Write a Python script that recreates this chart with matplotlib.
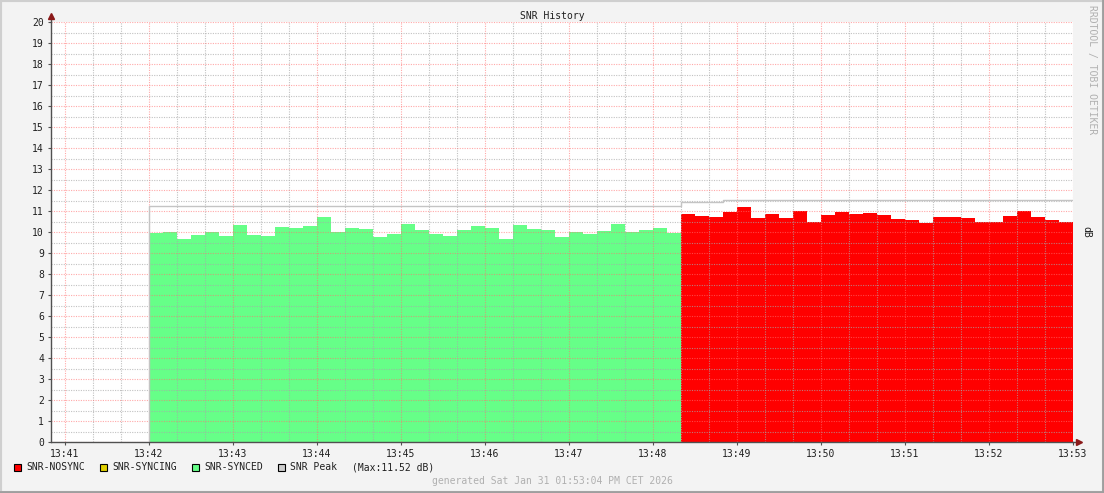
import matplotlib
matplotlib.use("Agg")
import matplotlib.pyplot as plt
from matplotlib.patches import Rectangle
from matplotlib.ticker import FixedLocator, MultipleLocator

# 10 s samples
STEP_S = 10
SYNCED_START = "13:42:00"
NOSYNC_START = "13:48:20"

snr_synced = [9.97, 10.02, 9.68, 9.87, 10.02, 9.82, 10.35, 9.87, 9.82, 10.25,
              10.20, 10.30, 10.73, 10.02, 10.20, 10.16, 9.78, 9.92, 10.40, 10.10,
              9.92, 9.82, 10.10, 10.30, 10.20, 9.68, 10.35, 10.16, 10.10, 9.78,
              10.02, 9.92, 10.06, 10.40, 10.02, 10.10, 10.20, 9.97]
snr_nosync = [10.86, 10.76, 10.71, 10.95, 11.19, 10.67, 10.86, 10.67, 11.00, 10.49,
              10.81, 10.95, 10.86, 10.90, 10.81, 10.62, 10.57, 10.43, 10.71, 10.71,
              10.67, 10.48, 10.48, 10.76, 11.00, 10.71, 10.57, 10.48]
snr_peak = [11.24] * 38 + [11.45] * 3 + [11.52] * 25

x_ticks = ["13:41", "13:42", "13:43", "13:44", "13:45", "13:46", "13:47",
           "13:48", "13:49", "13:50", "13:51", "13:52", "13:53"]

legend_items = [("SNR-NOSYNC", "#ff0000"), ("SNR-SYNCING", "#e0d000"),
                ("SNR-SYNCED", "#66ff88"), ("SNR Peak", "#cccccc")]


def secs(hhmm):
    p = [int(v) for v in hhmm.split(":")]
    return p[0] * 3600 + p[1] * 60 + (p[2] if len(p) > 2 else 0)


def edges(start, n):
    t0 = secs(start)
    return [t0 + i * STEP_S for i in range(n + 1)]


MONO = "DejaVu Sans Mono"
FS = 7

W, H = 1104, 493
fig = plt.figure(figsize=(W / 100, H / 100), dpi=100, facecolor="#f3f3f3")

# frame around the image
fig.patches.append(Rectangle((0, 0), 1, 1, transform=fig.transFigure,
                             fill=False, ec="#cfcfcf", lw=3))
fig.add_artist(plt.Line2D([1 - 1 / W, 1 - 1 / W], [0, 1], color="#9e9e9e",
                          lw=2, transform=fig.transFigure))
fig.add_artist(plt.Line2D([0, 1], [1 / H, 1 / H], color="#9e9e9e",
                          lw=2, transform=fig.transFigure))

ax = fig.add_axes([51 / W, (H - 442) / H, (1073 - 51) / W, 420 / H])
ax.set_facecolor("white")

e_sync = edges(SYNCED_START, len(snr_synced))
e_nosync = edges(NOSYNC_START, len(snr_nosync))
ax.stairs(snr_synced, e_sync, fill=True, color="#66ff88", lw=0, zorder=1)
ax.stairs(snr_nosync, e_nosync, fill=True, color="#ff0000", lw=0, zorder=1)

# peak line
e_peak = edges(SYNCED_START, len(snr_peak))
ax.plot([e_peak[0]] + e_peak, [0] + snr_peak + [snr_peak[-1]],
        drawstyle="steps-post", color="#c4c4c4", lw=1.0, zorder=3)

xmin = secs(x_ticks[0]) - 10
xmax = secs(x_ticks[-1])
ax.set_xlim(xmin, xmax)
ax.set_ylim(0, 20)

ax.xaxis.set_major_locator(FixedLocator([secs(t) for t in x_ticks]))
ax.xaxis.set_minor_locator(MultipleLocator(20))
ax.set_xticklabels(x_ticks)
ax.yaxis.set_major_locator(MultipleLocator(1))
ax.yaxis.set_minor_locator(MultipleLocator(0.5))

ax.grid(True, which="major", color="#ff7070", alpha=0.6, lw=0.8,
        linestyle=(0, (1, 1.2)), zorder=2)
ax.grid(True, which="minor", color="#a8a8a8", alpha=0.7, lw=0.8,
        linestyle=(0, (1, 1.2)), zorder=2)
ax.set_axisbelow(False)

for s in ["top", "right"]:
    ax.spines[s].set_visible(False)
for s in ["left", "bottom"]:
    ax.spines[s].set_color("#505050")
    ax.spines[s].set_linewidth(1.0)
    ax.spines[s].set_zorder(4)

ax.tick_params(which="major", length=2.5, width=0.8, color="#505050",
               labelsize=FS, pad=2.5)
ax.tick_params(which="minor", length=0)
for lab in ax.get_xticklabels() + ax.get_yticklabels():
    lab.set_fontfamily(MONO)
    lab.set_color("#202020")

# axis arrows
ax.plot([0, 0], [1, 1.012], transform=ax.transAxes, color="#505050", lw=1,
        clip_on=False)
ax.plot([0], [1.014], marker="^", ms=4, color="#8b1a1a", mec="#8b1a1a",
        transform=ax.transAxes, clip_on=False)
ax.plot([1, 1.006], [0, 0], transform=ax.transAxes, color="#505050", lw=1,
        clip_on=False)
ax.plot([1.006], [0], marker=">", ms=4, color="#8b1a1a", mec="#8b1a1a",
        transform=ax.transAxes, clip_on=False)

fig.text(552 / W, 1 - 16 / H, "SNR History", family=MONO, fontsize=FS,
         ha="center", va="center", color="#202020")
fig.text(1086 / W, 1 - 232 / H, "dB", family=MONO, fontsize=FS,
         ha="center", va="center", rotation=-90, color="#202020")
fig.text(1092 / W, 1 - 5 / H, "RRDTOOL / TOBI OETIKER", family=MONO,
         fontsize=FS, ha="center", va="top", rotation=-90, color="#b0b0b0")

# legend
sq_x = [13.5, 99.5, 191.5, 277.5]
tx_x = [26, 112, 204, 290]
ly = 467
for (name, col), sx, tx in zip(legend_items, sq_x, tx_x):
    fig.patches.append(Rectangle((sx / W, 1 - (ly + 3.5) / H), 7 / W, 7 / H,
                                 transform=fig.transFigure, fc=col,
                                 ec="black", lw=0.8))
    fig.text(tx / W, 1 - ly / H, name, family=MONO, fontsize=FS,
             ha="left", va="center", color="#202020")
fig.text(352 / W, 1 - ly / H, "(Max:%.2f dB)" % max(snr_peak), family=MONO,
         fontsize=FS, ha="left", va="center", color="#202020")

fig.text(552 / W, 1 - 481 / H, "generated Sat Jan 31 01:53:04 PM CET 2026",
         family=MONO, fontsize=FS, ha="center", va="center", color="#b0b0b0")

fig.savefig("out.png", dpi=100, facecolor=fig.get_facecolor())
